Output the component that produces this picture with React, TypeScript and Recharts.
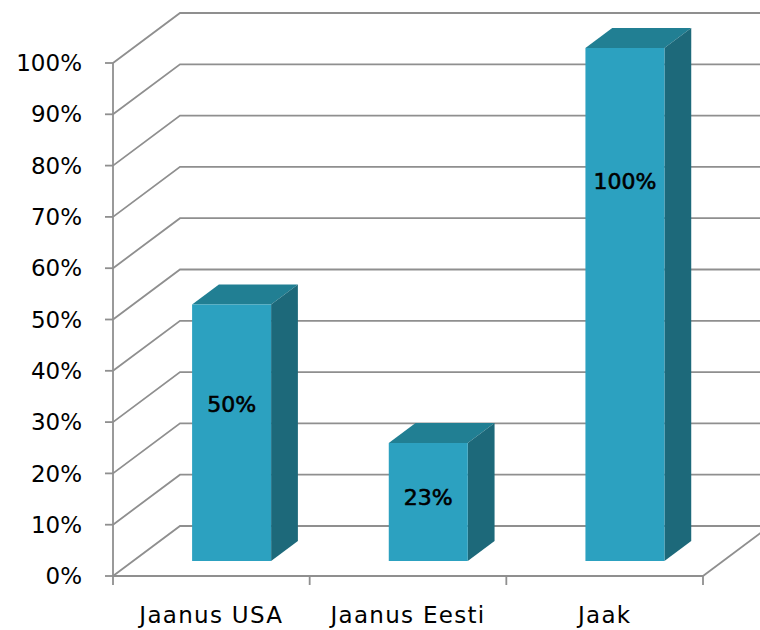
import React from 'react';
import { BarChart, Bar, XAxis, YAxis, CartesianGrid, LabelList } from 'recharts';

// Share per person, in percent
const CATEGORIES = ['Jaanus USA', 'Jaanus Eesti', 'Jaak'];
const SHARE = [50, 23, 100];
const Y_TICKS = [0, 10, 20, 30, 40, 50, 60, 70, 80, 90, 100];

const data = CATEGORIES.map((name, i) => ({ name, share: SHARE[i] }));

// Look and 3D projection settings
const FONT = '"DejaVu Sans", Verdana, sans-serif';
const GRID = '#8f8f8f';
const GRID_W = 1.8;
const DEPTH_X = 67; // horizontal shift from front plane to back wall
const DEPTH_Y = 50; // vertical shift from front plane to back wall
const BAR_NEAR = 0.3; // bar front face, as a fraction of the depth
const BAR_FAR = 0.7; // bar back face
const LABEL_LIFT = [0.61, 0.54, 0.74]; // label height within each bar
const FACE = '#2ca1c0';
const TOP = '#217f93';
const SIDE = '#1d697a';

// Gridline: diagonal along the left wall, then across the back wall
const gridLine = (p: any) => (
  <path
    key={`grid-${p.index}`}
    d={`M${p.x1},${p.y1}L${p.x1 + DEPTH_X},${p.y1 - DEPTH_Y}L${p.x2 + DEPTH_X + 30},${p.y1 - DEPTH_Y}`}
    stroke={GRID}
    strokeWidth={GRID_W}
    fill="none"
  />
);

// Box-shaped bar: front face, top and right side
const Block = (p: any) => {
  const { x, y, width, height } = p;
  if (height <= 0) return null;
  const fx = x + DEPTH_X * BAR_NEAR;
  const fy = y - DEPTH_Y * BAR_NEAR;
  const dx = DEPTH_X * (BAR_FAR - BAR_NEAR);
  const dy = DEPTH_Y * (BAR_FAR - BAR_NEAR);
  const r = fx + width;
  const b = fy + height;
  return (
    <g>
      <path d={`M${fx},${fy}L${fx + dx},${fy - dy}L${r + dx},${fy - dy}L${r},${fy}Z`} fill={TOP} />
      <path d={`M${r},${fy}L${r + dx},${fy - dy}L${r + dx},${b - dy}L${r},${b}Z`} fill={SIDE} />
      <rect x={fx} y={fy} width={width} height={height} fill={FACE} />
    </g>
  );
};

const BarValue = (p: any) => {
  const { x, y, width, height, value, index } = p;
  const cx = x + DEPTH_X * BAR_NEAR + width / 2;
  const bottom = y + height - DEPTH_Y * BAR_NEAR;
  const cy = bottom - height * LABEL_LIFT[index];
  return (
    <text
      x={cx}
      y={cy}
      textAnchor="middle"
      dominantBaseline="central"
      fontFamily={FONT}
      fontSize={22}
      stroke="#000"
      strokeWidth={0.6}
      fill="#000"
    >
      {`${value}%`}
    </text>
  );
};

// Category tick: boundary tick marks, floor edge and the label
const XTick = (p: any) => {
  const n = CATEGORIES.length;
  const half = p.payload?.offset ? p.payload.offset : p.width / n / 2;
  const left = p.x - half;
  const right = p.x + half;
  const last = p.index === n - 1;
  return (
    <g>
      <line x1={left} y1={p.y} x2={left} y2={p.y + 9} stroke={GRID} strokeWidth={GRID_W} />
      {last && (
        <>
          <line x1={right} y1={p.y} x2={right} y2={p.y + 9} stroke={GRID} strokeWidth={GRID_W} />
          <path
            d={`M${right},${p.y}L${right + DEPTH_X},${p.y - DEPTH_Y}`}
            stroke={GRID}
            strokeWidth={GRID_W}
            fill="none"
          />
        </>
      )}
      <text
        x={p.x}
        y={p.y + 47}
        textAnchor="middle"
        fontFamily={FONT}
        fontSize={23}
        letterSpacing={1.3}
        fill="#000"
      >
        {p.payload.value}
      </text>
    </g>
  );
};

export default function App() {
  return (
    <div style={{ position: 'absolute', left: 0, top: 0, background: '#fff' }}>
      <BarChart
        width={760}
        height={630}
        data={data}
        margin={{ top: 63, right: 57, left: 0, bottom: 0 }}
        barCategoryGap="30%"
      >
        <CartesianGrid vertical={false} horizontal={gridLine} />
        <XAxis
          dataKey="name"
          height={54}
          axisLine={{ stroke: GRID, strokeWidth: GRID_W }}
          tickLine={false}
          tickSize={0}
          tickMargin={0}
          tick={<XTick />}
          interval={0}
        />
        <YAxis
          width={113}
          domain={[0, 100]}
          ticks={Y_TICKS}
          interval={0}
          tickFormatter={(v: number) => `${v}%`}
          axisLine={{ stroke: GRID, strokeWidth: GRID_W }}
          tickLine={{ stroke: GRID, strokeWidth: GRID_W }}
          tickSize={8}
          tickMargin={23}
          tick={{ fill: '#000', fontSize: 23, fontFamily: FONT }}
        />
        <Bar dataKey="share" shape={<Block />} isAnimationActive={false}>
          <LabelList dataKey="share" content={<BarValue />} />
        </Bar>
      </BarChart>
    </div>
  );
}
